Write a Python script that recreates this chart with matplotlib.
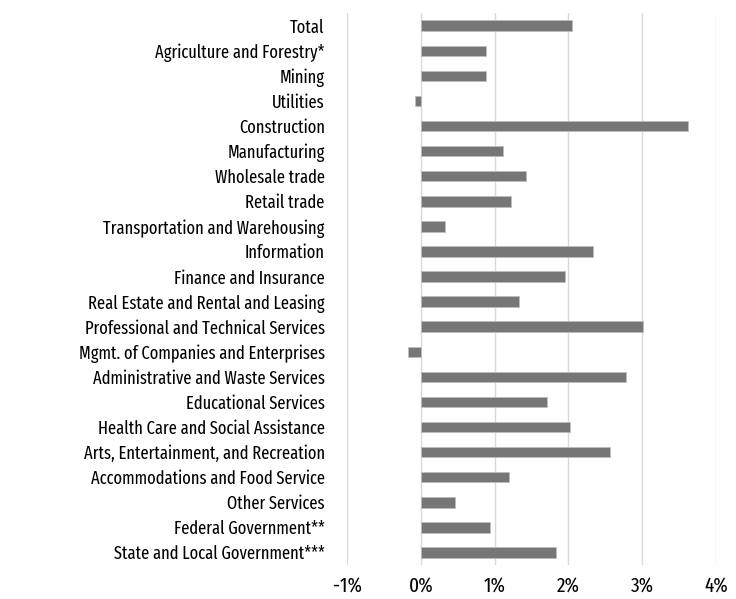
import matplotlib.pyplot as plt
from matplotlib.ticker import FuncFormatter

categories = [
    "Total",
    "Agriculture and Forestry*",
    "Mining",
    "Utilities",
    "Construction",
    "Manufacturing",
    "Wholesale trade",
    "Retail trade",
    "Transportation and Warehousing",
    "Information",
    "Finance and Insurance",
    "Real Estate and Rental and Leasing",
    "Professional and Technical Services",
    "Mgmt. of Companies and Enterprises",
    "Administrative and Waste Services",
    "Educational Services",
    "Health Care and Social Assistance",
    "Arts, Entertainment, and Recreation",
    "Accommodations and Food Service",
    "Other Services",
    "Federal Government**",
    "State and Local Government***",
]
growth = [2.05, 0.89, 0.88, -0.08, 3.62, 1.11, 1.42, 1.22, 0.33, 2.34, 1.95, 1.33,
          3.01, -0.18, 2.78, 1.71, 2.02, 2.56, 1.20, 0.46, 0.94, 1.83]
xticks = [-1, 0, 1, 2, 3, 4]

plt.rcParams['font.family'] = ['Fira Sans Extra Condensed', 'DejaVu Sans']

fig = plt.figure(figsize=(7.36, 5.99), dpi=100)
ax = fig.add_axes([0.4715, 0.0568, 0.5013, 0.9212])

pos = list(range(len(categories)))
ax.barh(pos, growth, height=0.42, color='#767676', edgecolor='#bdbdbd', linewidth=0.6, zorder=3)

ax.set_ylim(len(categories) - 0.5, -0.5)
ax.set_xlim(-1, 4)
ax.set_xticks(xticks)
ax.xaxis.set_major_formatter(FuncFormatter(lambda v, p: f"{v:.0f}%"))
ax.set_yticks(pos)
ax.set_yticklabels(categories)
ax.grid(axis='x', color='#d9d9d9', linewidth=1, zorder=0)
for s in ax.spines.values():
    s.set_visible(False)
ax.tick_params(axis='y', length=0, pad=16, labelsize=13)
ax.tick_params(axis='x', length=0, pad=8, labelsize=15)

# fit the longest label to the width it has in the original
fig.canvas.draw()
r = fig.canvas.get_renderer()
widest = max(t.get_window_extent(r).width for t in ax.get_yticklabels())
ax.tick_params(axis='y', labelsize=13 * 248 / widest)

plt.savefig('out.png', dpi=100)
